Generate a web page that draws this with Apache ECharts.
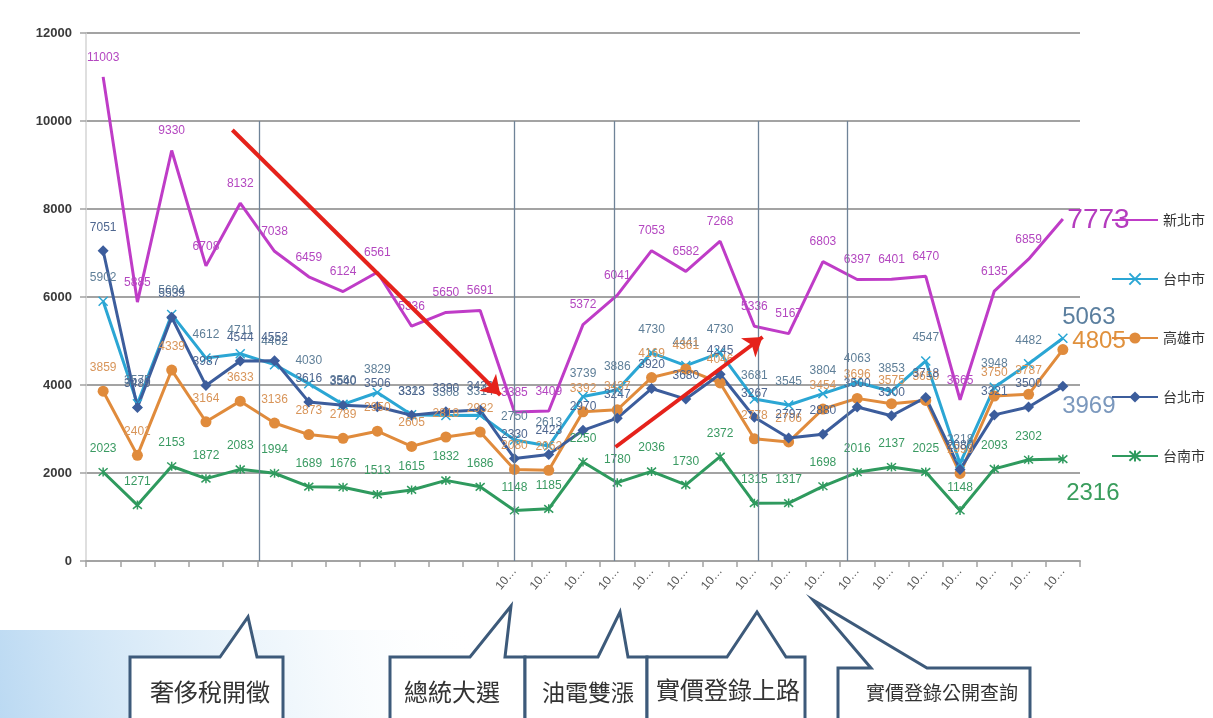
<!DOCTYPE html>
<html>
<head>
<meta charset="utf-8">
<script src="https://cdn.jsdelivr.net/npm/echarts/dist/echarts.min.js"></script>
<style>
html,body{margin:0;padding:0;background:#fff;}
#chart{width:1213px;height:718px;}
</style>
</head>
<body>
<div id="chart"></div>
<script>
// Monthly figures per city
var categories = ['1','2','3','4','5','6','7','8','9','10','11','12','13','14','15','16','17','18','19','20','21','22','23','24','25','26','27','28','29'];
var xTickLabels = ['','','','','','','','','','','','','10…','10…','10…','10…','10…','10…','10…','10…','10…','10…','10…','10…','10…','10…','10…','10…','10…'];
var yTicks = [0, 2000, 4000, 6000, 8000, 10000, 12000];

var xinbei    = [11003,5885,9330,6708,8132,7038,6459,6124,6561,5336,5650,5691,3385,3409,5372,6041,7053,6582,7268,5336,5167,6803,6397,6401,6470,3665,6135,6859,7773];
var taichung  = [5902,3575,5604,4612,4711,4462,4030,3560,3829,3323,3308,3314,2750,2613,3739,3886,4730,4441,4730,3681,3545,3804,4063,3853,4547,2218,3948,4482,5063];
var kaohsiung = [3859,2401,4339,3164,3633,3136,2873,2789,2950,2605,2818,2932,2080,2062,3392,3437,4169,4361,4046,2778,2706,3454,3696,3575,3650,1990,3750,3787,4805];
var taipei    = [7051,3489,5539,3987,4544,4552,3616,3540,3506,3313,3390,3432,2330,2423,2970,3247,3920,3680,4245,3267,2797,2880,3500,3300,3718,2080,3321,3500,3969];
var tainan    = [2023,1271,2153,1872,2083,1994,1689,1676,1513,1615,1832,1686,1148,1185,2250,1780,2036,1730,2372,1315,1317,1698,2016,2137,2025,1148,2093,2302,2316];

var cityNames = ['新北市','台中市','高雄市','台北市','台南市'];

// Event separators (in category index units) and trend arrows [x, y] pairs
var separatorsAt = [4.55, 12, 14.9, 19.1, 21.7];
var downArrow = [[3.77, 9795], [11.59, 3773]];
var upArrow = [[14.95, 2591], [19.24, 5091]];

var chart = echarts.init(document.getElementById('chart'));

var FONT = "'Liberation Sans Narrow','Liberation Sans',sans-serif";

function citySeries(name, values, color, labelColor, symbol, symbolSize, itemStyle, endLabel) {
  var last = values.length - 1;
  return {
    name: name,
    type: 'line',
    z: 3,
    data: values.map(function (v, i) {
      return i === last ? { value: v, label: endLabel } : v;
    }),
    symbol: symbol,
    symbolSize: symbolSize,
    showAllSymbol: true,
    lineStyle: { color: color, width: 3 },
    itemStyle: itemStyle,
    label: {
      show: true,
      position: 'top',
      distance: 12,
      color: labelColor,
      fontSize: 12,
      fontFamily: FONT
    },
    emphasis: { disabled: true }
  };
}

var C_XB = '#bf3cc7', C_TC = '#2ba6d4', C_KH = '#e08b3c', C_TP = '#3c5d9c', C_TN = '#2f9a5e';
var crossPath = 'path://M0,0L10,10M0,10L10,0';
var starPath = 'path://M0,0L10,10M0,10L10,0M5,-1L5,11';
var bigFont = { fontSize: 24, fontFamily: "'Liberation Sans',sans-serif" };

var series = [
  citySeries(cityNames[0], xinbei, C_XB, '#b447c0', 'circle', 3,
    { color: 'rgba(0,0,0,0)', borderWidth: 0 },
    Object.assign({}, bigFont, { position: 'right', distance: 3, offset: [0, 1], color: '#b43cbe', fontSize: 28 })),
  citySeries(cityNames[1], taichung, C_TC, '#5f7f98', crossPath, 9,
    { color: C_TC, borderColor: C_TC, borderWidth: 1.5 },
    Object.assign({ position: 'top', distance: 4, offset: [26, 0], color: '#5b7f9f' }, bigFont)),
  citySeries(cityNames[2], kaohsiung, C_KH, '#d8955a', 'circle', 11,
    { color: C_KH },
    Object.assign({ position: 'right', distance: 4, offset: [0, -8], color: '#e0913d' }, bigFont)),
  citySeries(cityNames[3], taipei, C_TP, '#4f6790', 'diamond', 11,
    { color: C_TP },
    Object.assign({ position: 'bottom', distance: 3, offset: [26, 0], color: '#7b98bd' }, bigFont)),
  citySeries(cityNames[4], tainan, C_TN, '#3a9a62', starPath, 9,
    { color: C_TN, borderColor: C_TN, borderWidth: 1.5 },
    Object.assign({ position: 'bottom', distance: 3, offset: [30, 14], color: '#3a9d5d' }, bigFont))
];

// vertical event separators
series.push({
  type: 'line', xAxisIndex: 1, yAxisIndex: 0, data: [], silent: true, z: 1,
  markLine: {
    silent: true, symbol: ['none', 'none'], label: { show: false },
    lineStyle: { color: '#6f8398', width: 1.3, type: 'solid' },
    data: separatorsAt.map(function (x) {
      return [{ coord: [x, 10000] }, { coord: [x, 0] }];
    })
  }
});
// red trend arrows
series.push({
  type: 'line', xAxisIndex: 1, yAxisIndex: 0, data: [], silent: true, z: 5,
  markLine: {
    silent: true, symbol: ['none', 'arrow'], symbolSize: 18, label: { show: false },
    lineStyle: { color: '#e5221b', width: 4, type: 'solid' },
    itemStyle: { color: '#e5221b' },
    data: [
      [{ coord: downArrow[0] }, { coord: downArrow[1] }],
      [{ coord: upArrow[0] }, { coord: upArrow[1] }]
    ]
  }
});

// callout boxes below the axis
function callout(points, text, tx, ty, size) {
  return [
    {
      type: 'polygon', z: 10,
      shape: { points: points },
      style: { fill: '#ffffff', stroke: '#3d5a7a', lineWidth: 3 }
    },
    {
      type: 'text', z: 11, x: tx, y: ty,
      style: { text: text, fill: '#333', font: size + 'px "Noto Sans CJK TC"', align: 'center', verticalAlign: 'middle' }
    }
  ];
}

var graphics = [
  {
    type: 'rect', z: 0, shape: { x: 0, y: 630, width: 480, height: 88 },
    style: {
      fill: new echarts.graphic.LinearGradient(0, 1, 1, 0, [
        { offset: 0, color: 'rgba(120,180,230,0.5)' },
        { offset: 0.6, color: 'rgba(180,215,240,0.2)' },
        { offset: 1, color: 'rgba(255,255,255,0)' }
      ])
    }
  }
];
graphics = graphics
  .concat(callout([[130,722],[130,657],[220,657],[248,617],[257,657],[283,657],[283,722]], '奢侈稅開徵', 210, 692, 24))
  .concat(callout([[390,722],[390,657],[470,657],[511,606],[505,657],[525,657],[525,722]], '總統大選', 452, 692, 24))
  .concat(callout([[525,722],[525,657],[598,657],[620,612],[628,657],[647,657],[647,722]], '油電雙漲', 588, 692, 23))
  .concat(callout([[647,722],[647,657],[727,657],[757,612],[786,657],[805,657],[805,722]], '實價登錄上路', 728, 690, 24))
  .concat(callout([[838,722],[838,668],[871,668],[813,600],[927,668],[1030,668],[1030,722]], '實價登錄公開查詢', 942, 693, 19));

var option = {
  animation: false,
  backgroundColor: '#ffffff',
  grid: { left: 86, right: 133, top: 33, bottom: 157 },
  legend: {
    orient: 'vertical',
    left: 1106,
    top: 208,
    itemWidth: 46,
    itemHeight: 14,
    itemGap: 45,
    selectedMode: false,
    textStyle: { color: '#333', fontSize: 14, fontFamily: "'Noto Sans CJK TC',sans-serif" },
    data: cityNames
  },
  xAxis: [
    {
      type: 'category',
      data: categories,
      boundaryGap: true,
      axisLine: { show: true, lineStyle: { color: '#a3a3a3', width: 2 } },
      axisTick: { show: true, length: 6, lineStyle: { color: '#a3a3a3', width: 1.5 } },
      axisLabel: {
        interval: 0, rotate: 50, margin: 8,
        color: '#555', fontSize: 12, fontFamily: FONT,
        formatter: function (v, i) { return xTickLabels[i]; }
      },
      splitLine: { show: false }
    },
    { type: 'value', min: -0.5, max: 28.5, show: false }
  ],
  yAxis: {
    type: 'value', min: 0, max: 12000, interval: 2000,
    axisLine: { show: true, onZero: false, lineStyle: { color: '#d4d4d4', width: 1.5 } },
    axisTick: { show: true, length: 6, lineStyle: { color: '#a3a3a3', width: 1.5 } },
    axisLabel: {
      margin: 14, color: '#3a3a3a', fontSize: 13, fontWeight: 'bold',
      fontFamily: "'Liberation Sans',sans-serif",
      formatter: function (v) { return yTicks.indexOf(v) >= 0 ? String(v) : ''; }
    },
    splitLine: { show: true, lineStyle: { color: '#a3a3a3', width: 2 } }
  },
  series: series,
  graphic: graphics
};

chart.setOption(option);
</script>
</body>
</html>
